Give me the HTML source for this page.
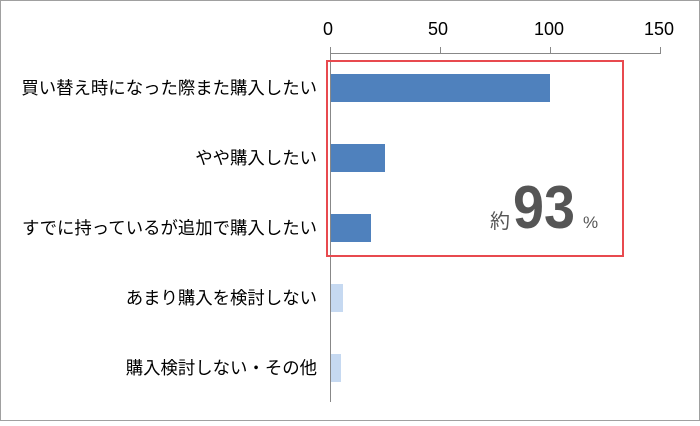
<!DOCTYPE html>
<html><head><meta charset="utf-8"><style>
body{margin:0;background:#fff}
svg text{font-family:"Liberation Sans","Noto Sans CJK JP",sans-serif}
</style></head><body>
<svg width="700" height="421" viewBox="0 0 700 421" xmlns="http://www.w3.org/2000/svg">
<rect x="0.5" y="0.5" width="699" height="420" fill="#fff" stroke="#a0a0a0"/>
<g font-size="18" fill="#000" text-anchor="middle">
<text x="328" y="35">0</text><text x="438" y="35">50</text><text x="549" y="35">100</text><text x="659" y="35">150</text>
</g>
<g stroke="#888" stroke-width="1">
<line x1="330" y1="53.5" x2="661" y2="53.5"/>
<line x1="330.5" y1="47" x2="330.5" y2="402"/>
<line x1="440.5" y1="47" x2="440.5" y2="53"/>
<line x1="550.5" y1="47" x2="550.5" y2="53"/>
<line x1="660.5" y1="47" x2="660.5" y2="53"/>
</g>
<rect x="331" y="74" width="219" height="28" fill="#4f81bd"/>
<rect x="331" y="144" width="54" height="28" fill="#4f81bd"/>
<rect x="331" y="214" width="40" height="28" fill="#4f81bd"/>
<rect x="331" y="284" width="12" height="28" fill="#c6d9f1"/>
<rect x="331" y="354" width="10" height="28" fill="#c6d9f1"/>
<rect x="327" y="61" width="296" height="195" fill="none" stroke="#e84a4f" stroke-width="2"/>
<g font-size="17.4" fill="#000" text-anchor="end">
<text x="317" y="94">買い替え時になった際また購入したい</text>
<text x="317" y="164">やや購入したい</text>
<text x="317" y="234">すでに持っているが追加で購入したい</text>
<text x="317" y="304">あまり購入を検討しない</text>
<text x="317" y="374">購入検討しない・その他</text>
</g>
<text x="490" y="228" font-size="20" fill="#555">約</text>
<text x="513" y="228" font-size="60" font-weight="bold" fill="#555" textLength="62" lengthAdjust="spacingAndGlyphs">93</text>
<text x="583" y="228" font-size="17" fill="#555">%</text>
</svg>
</body></html>
